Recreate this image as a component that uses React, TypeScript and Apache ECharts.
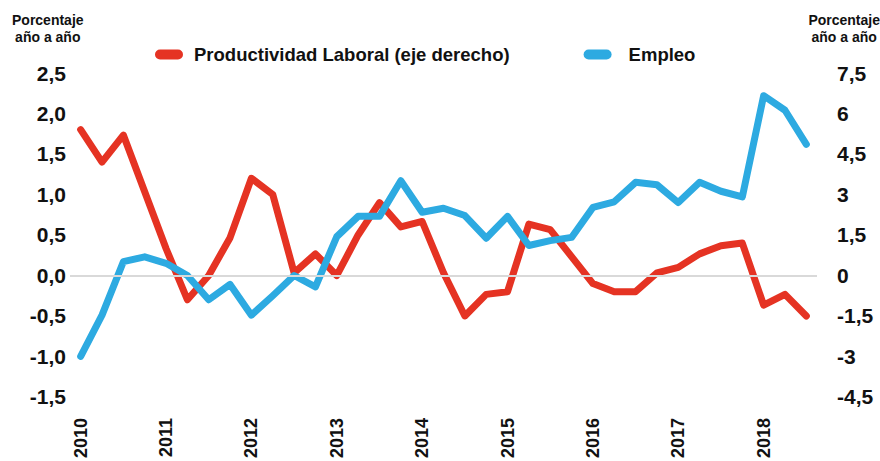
import React, { useEffect, useRef } from "react";
import * as echarts from "echarts";

const years = ["2010", "2011", "2012", "2013", "2014", "2015", "2016", "2017", "2018"];
const quartersPerYear = ["T1", "T2", "T3", "T4"];
const lastYearQuarters = 3;

// Productividad Laboral (eje derecho), % a/a
const productividad = [
  5.4, 4.2, 5.2, 3.1, 1.0, -0.9, 0.0, 1.4, 3.6, 3.0, 0.1, 0.8, 0.0, 1.5, 2.7, 1.8,
  2.0, 0.1, -1.5, -0.7, -0.6, 1.9, 1.7, 0.7, -0.3, -0.6, -0.6, 0.1, 0.3, 0.8, 1.1,
  1.2, -1.1, -0.7, -1.5,
];

// Empleo (eje izquierdo), % a/a
const empleo = [
  -1.0, -0.49, 0.17, 0.23, 0.15, 0.0, -0.3, -0.11, -0.49, -0.25, 0.0, -0.14, 0.48,
  0.73, 0.73, 1.17, 0.78, 0.83, 0.74, 0.46, 0.73, 0.37, 0.43, 0.47, 0.84, 0.91, 1.15,
  1.12, 0.9, 1.15, 1.04, 0.97, 2.22, 2.04, 1.62,
];

const leftAxis = { min: -1.5, max: 2.5, interval: 0.5 };
const rightAxis = { min: -4.5, max: 7.5, interval: 1.5 };
const axisTitle = "Porcentaje\naño a año";

const categories: string[] = [];
years.forEach((y, yi) => {
  const n = yi === years.length - 1 ? lastYearQuarters : quartersPerYear.length;
  for (let q = 0; q < n; q++) categories.push(`${y}-${quartersPerYear[q]}`);
});

const FONT = "'Liberation Sans', Arial, Helvetica, sans-serif";
const RED = "#E53323";
const BLUE = "#2DAAE1";
const CAPSULE = "path://M5,0 L23,0 A5,5 0 0 1 23,10 L5,10 A5,5 0 0 1 5,0 Z";

export default function App() {
  const ref = useRef<HTMLDivElement>(null);
  useEffect(() => {
    document.body.style.margin = "0";
    if (!ref.current) return;
    const chart = echarts.init(ref.current, undefined, { renderer: "svg" });
    chart.setOption({
      animation: false,
      backgroundColor: "#ffffff",
      textStyle: { fontFamily: FONT },
      grid: { left: 70, right: 63, top: 73, bottom: 64, containLabel: false },
      legend: {
        left: 155,
        top: 45,
        padding: 0,
        itemGap: 74,
        itemWidth: 28,
        itemHeight: 10,
        icon: CAPSULE,
        textStyle: {
          fontFamily: FONT,
          fontSize: 18.5,
          fontWeight: "bold",
          color: "#111",
          padding: [0, 0, 0, 6],
        },
        data: [
          { name: "Productividad Laboral (eje derecho)" },
          { name: "Empleo", textStyle: { padding: [0, 0, 0, 12] } },
        ],
      },
      graphic: [
        {
          type: "text",
          left: 12,
          top: 11,
          style: {
            text: axisTitle,
            font: `bold 14px ${FONT}`,
            fill: "#111",
            textAlign: "center",
            lineHeight: 17,
            x: 36,
          },
        },
        {
          type: "text",
          right: 0,
          top: 11,
          style: {
            text: axisTitle,
            font: `bold 14px ${FONT}`,
            fill: "#111",
            textAlign: "center",
            lineHeight: 17,
          },
        },
      ],
      xAxis: {
        type: "category",
        data: categories,
        boundaryGap: true,
        axisLine: { show: false },
        axisTick: { show: false },
        splitLine: { show: false },
        axisLabel: {
          interval: (idx: number) => idx % 4 === 0,
          formatter: (v: string) => v.split("-")[0],
          rotate: 90,
          margin: 21,
          fontFamily: FONT,
          fontSize: 18,
          fontWeight: "bold",
          color: "#111",
        },
      },
      yAxis: [
        {
          type: "value",
          min: leftAxis.min,
          max: leftAxis.max,
          interval: leftAxis.interval,
          axisLine: { show: false },
          axisTick: { show: false },
          splitLine: { show: false },
          axisLabel: {
            margin: 4,
            fontFamily: FONT,
            fontSize: 21,
            fontWeight: "bold",
            color: "#111",
            formatter: (v: number) => v.toFixed(1).replace(".", ","),
          },
        },
        {
          type: "value",
          min: rightAxis.min,
          max: rightAxis.max,
          interval: rightAxis.interval,
          position: "right",
          axisLine: { show: false },
          axisTick: { show: false },
          splitLine: { show: false },
          axisLabel: {
            margin: 20,
            fontFamily: FONT,
            fontSize: 21,
            fontWeight: "bold",
            color: "#111",
            formatter: (v: number) => {
              const r = Math.round(v * 10) / 10;
              return Number.isInteger(r) ? String(r) : r.toFixed(1).replace(".", ",");
            },
          },
        },
      ],
      series: [
        {
          name: "zero",
          type: "line",
          data: [],
          z: 1,
          silent: true,
          markLine: {
            silent: true,
            symbol: "none",
            label: { show: false },
            lineStyle: { color: "#d9d9d9", width: 2, type: "solid" },
            data: [{ yAxis: 0 }],
          },
        },
        {
          name: "Productividad Laboral (eje derecho)",
          type: "line",
          yAxisIndex: 1,
          data: productividad,
          symbol: "none",
          z: 2,
          itemStyle: { color: RED },
          lineStyle: { color: RED, width: 7, cap: "round", join: "round" },
        },
        {
          name: "Empleo",
          type: "line",
          yAxisIndex: 0,
          data: empleo,
          symbol: "none",
          z: 3,
          itemStyle: { color: BLUE },
          lineStyle: { color: BLUE, width: 7, cap: "round", join: "round" },
        },
      ],
    });
    return () => chart.dispose();
  }, []);
  return (
    <div
      ref={ref}
      style={{ position: "absolute", left: 0, top: 0, width: 880, height: 461 }}
    />
  );
}
